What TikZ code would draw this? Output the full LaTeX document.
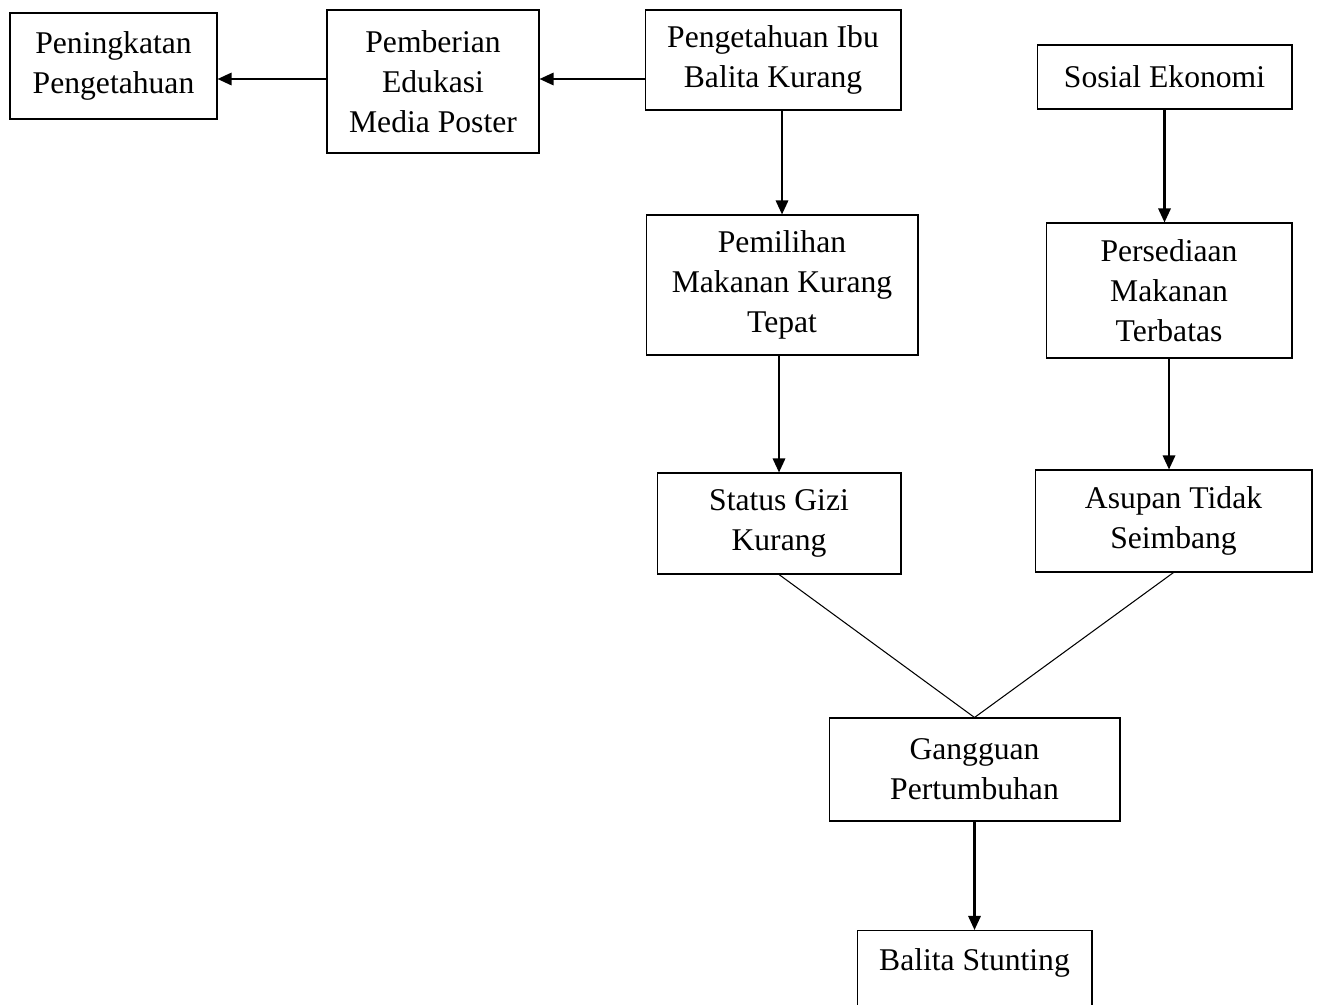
\documentclass[tikz,border=0pt]{standalone}
\usepackage{fontspec}
\setmainfont{Liberation Serif}
\usetikzlibrary{arrows.meta, positioning, calc}

\tikzset{
  kotak/.style={draw, line width=0.6pt, align=center, inner sep=0pt, font=\fontsize{18}{22.7}\selectfont},
  panah/.style={-{Triangle[length=8pt,width=7pt]}, line width=1.3pt},
  garis/.style={line width=0.6pt}
}

\begin{document}
\begin{tikzpicture}[x=0.02cm, y=-0.02cm]
\useasboundingbox (0,0) rectangle (1317,1004);

% kotak-kotak
\node[kotak, minimum width=4.14cm, minimum height=2.12cm] (peningkatan) at (113.5,66) {Peningkatan\\Pengetahuan};
\node[kotak, minimum width=4.24cm, minimum height=2.86cm] (pemberian) at (433,81.5) {Pemberian\\Edukasi\\Media Poster};
\node[kotak, minimum width=5.12cm, minimum height=2.00cm] (pengetahuan) at (773,60) {Pengetahuan Ibu\\Balita Kurang};
\node[kotak, minimum width=5.10cm, minimum height=1.28cm] (sosial) at (1164.5,77) {Sosial Ekonomi};
\node[kotak, minimum width=5.44cm, minimum height=2.80cm] (pemilihan) at (782,285) {Pemilihan\\Makanan Kurang\\Tepat};
\node[kotak, minimum width=4.92cm, minimum height=2.70cm] (persediaan) at (1169,290.5) {Persediaan\\Makanan\\Terbatas};
\node[kotak, minimum width=4.88cm, minimum height=2.02cm] (status) at (779,523.5) {Status Gizi\\Kurang};
\node[kotak, minimum width=5.54cm, minimum height=2.04cm] (asupan) at (1173.5,521) {Asupan Tidak\\Seimbang};
\node[kotak, minimum width=5.82cm, minimum height=2.06cm] (gangguan) at (974.5,769.5) {Gangguan\\Pertumbuhan};
\node[kotak, anchor=north, minimum width=4.70cm, text height=22.7pt, text depth=40pt] (balita) at (974.5,930) {Balita Stunting};

% panah
\draw[panah] ([yshift=0.05cm]pengetahuan.west |- pemberian.east) -- ([yshift=0.05cm]pemberian.east);
\draw[panah] ([yshift=0.05cm]pemberian.west) -- ([yshift=0.05cm]pemberian.west -| peningkatan.east);
\draw[panah] (pemilihan.north |- pengetahuan.south) -- (pemilihan.north);
\draw[panah] (status.north |- pemilihan.south) -- (status.north);
\draw[panah] (sosial.south) -- (sosial.south |- persediaan.north);
\draw[panah] (persediaan.south) -- (persediaan.south |- asupan.north);
\draw[garis] (status.south) -- (gangguan.north);
\draw[garis] (asupan.south) -- (gangguan.north);
\draw[panah] (gangguan.south) -- (balita.north);
\end{tikzpicture}
\end{document}
